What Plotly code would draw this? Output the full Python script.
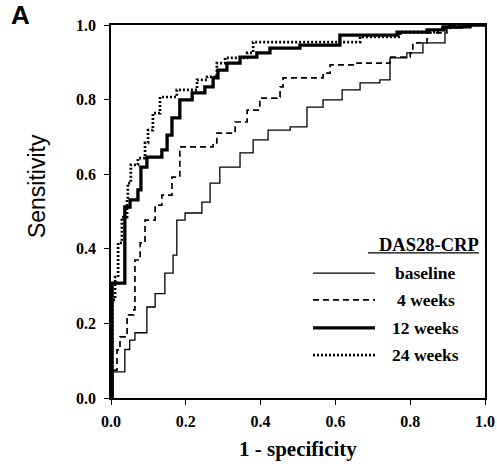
import plotly.graph_objects as go

# ROC curves (1 - specificity, sensitivity)
baseline_x = [0, 0.005, 0.024, 0.037, 0.05, 0.064, 0.096, 0.096, 0.118, 0.144, 0.166, 0.176, 0.198, 0.24, 0.243, 0.265, 0.291, 0.345, 0.38, 0.42, 0.479, 0.524, 0.567, 0.618, 0.666, 0.719, 0.746, 0.791, 0.834, 0.893, 0.893, 0.94, 1.0]
baseline_y = [0, 0.07, 0.07, 0.13, 0.155, 0.175, 0.177, 0.244, 0.28, 0.335, 0.383, 0.477, 0.496, 0.496, 0.525, 0.576, 0.619, 0.657, 0.692, 0.718, 0.727, 0.78, 0.799, 0.826, 0.845, 0.853, 0.912, 0.925, 0.952, 0.965, 0.992, 1.0, 1.0]

w4_x = [0, 0.003, 0.016, 0.024, 0.043, 0.061, 0.064, 0.064, 0.078, 0.091, 0.118, 0.136, 0.163, 0.184, 0.273, 0.283, 0.332, 0.364, 0.398, 0.444, 0.452, 0.46, 0.567, 0.586, 0.658, 0.746, 0.8, 0.807, 0.845, 0.898, 1.0]
w4_y = [0, 0.075, 0.129, 0.164, 0.223, 0.236, 0.308, 0.37, 0.416, 0.477, 0.517, 0.544, 0.592, 0.673, 0.684, 0.71, 0.74, 0.772, 0.804, 0.807, 0.834, 0.858, 0.871, 0.893, 0.898, 0.914, 0.925, 0.952, 0.979, 1.0, 1.0]

w12_x = [0, 0.003, 0.003, 0.037, 0.037, 0.051, 0.072, 0.08, 0.096, 0.136, 0.15, 0.163, 0.184, 0.217, 0.251, 0.273, 0.286, 0.31, 0.345, 0.39, 0.425, 0.505, 0.612, 0.765, 0.845, 0.888, 0.96, 1.0]
w12_y = [0, 0.182, 0.308, 0.308, 0.512, 0.531, 0.558, 0.619, 0.646, 0.665, 0.705, 0.751, 0.799, 0.818, 0.834, 0.858, 0.879, 0.898, 0.914, 0.925, 0.938, 0.946, 0.973, 0.981, 0.987, 0.995, 1.0, 1.0]

w24_x = [0, 0.003, 0.011, 0.019, 0.029, 0.043, 0.045, 0.053, 0.072, 0.091, 0.099, 0.112, 0.131, 0.176, 0.23, 0.257, 0.283, 0.305, 0.364, 0.38, 0.505, 0.666, 0.773, 0.88, 0.906, 1.0]
w24_y = [0, 0.263, 0.324, 0.416, 0.485, 0.531, 0.576, 0.625, 0.643, 0.684, 0.718, 0.764, 0.807, 0.826, 0.853, 0.861, 0.898, 0.912, 0.925, 0.954, 0.954, 0.968, 0.981, 0.992, 1.0, 1.0]

series_names = ["baseline", "4 weeks", "12 weeks", "24 weeks"]
series_x = [baseline_x, w4_x, w12_x, w24_x]
series_y = [baseline_y, w4_y, w12_y, w24_y]
line_styles = [dict(width=1.3, dash="solid"), dict(width=1.7, dash="6px,4px"),
               dict(width=3.3, dash="solid"), dict(width=2.7, dash="2px,2px")]

tick_vals = [0, 0.2, 0.4, 0.6, 0.8, 1.0]
tick_text = ["<b>0.0</b>", "<b>0.2</b>", "<b>0.4</b>", "<b>0.6</b>", "<b>0.8</b>", "<b>1.0</b>"]

fig = go.Figure()
for name, xs, ys, st in zip(series_names, series_x, series_y, line_styles):
    fig.add_trace(go.Scatter(x=xs, y=ys, mode="lines", name=name,
                             line=dict(color="black", shape="hv", **st),
                             showlegend=False))

SERIF = "Liberation Serif, Times New Roman, serif"
SANS = "Liberation Sans, Arial, sans-serif"


def axis_style(standoff):
    return dict(range=[0, 1], tickmode="array", tickvals=tick_vals, ticktext=tick_text,
                showgrid=False, zeroline=False, showline=True, linecolor="black",
                linewidth=1.5, mirror=True, ticks="outside", ticklen=5,
                tickcolor="black", tickwidth=1.3, automargin=False,
                ticklabelstandoff=standoff,
                tickfont=dict(family=SERIF, size=16, color="black"))


fig.update_layout(
    width=497, height=466,
    margin=dict(l=111, r=12, t=25, b=68),
    paper_bgcolor="white", plot_bgcolor="white",
    font=dict(family=SERIF, color="black"),
    xaxis=axis_style(3),
    yaxis=axis_style(5),
)


def note(text, x, y, size, family=SERIF, angle=0):
    fig.add_annotation(text=text, xref="paper", yref="paper", x=x, y=y,
                       xanchor="center", yanchor="middle", showarrow=False,
                       textangle=angle,
                       font=dict(family=family, size=size, color="black"))


# axis titles and panel letter
note("<b>1 - specificity</b>", 0.5, -0.137, 21)
note("Sensitivity", -0.198, 0.568, 23, family=SANS, angle=-90)
note("<b>A</b>", -0.243, 1.027, 26, family=SANS)

# legend drawn inside the plot
note("<b>DAS28-CRP</b>", 0.85, 0.41, 18.5)
fig.add_shape(type="line", xref="paper", yref="paper", x0=0.687, x1=0.984,
              y0=0.389, y1=0.389, line=dict(color="black", width=1.3))
legend_rows = [0.335, 0.263, 0.188, 0.115]
for name, st, yy in zip(series_names, line_styles, legend_rows):
    fig.add_shape(type="line", xref="paper", yref="paper", x0=0.54, x1=0.706,
                  y0=yy, y1=yy, line=dict(color="black", **st))
    note("<b>" + name + "</b>", 0.842, yy, 17.5)

fig.write_html("out.html",
               config={"displayModeBar": False},
               post_script="document.body.style.margin='0';document.body.style.overflow='hidden';")
